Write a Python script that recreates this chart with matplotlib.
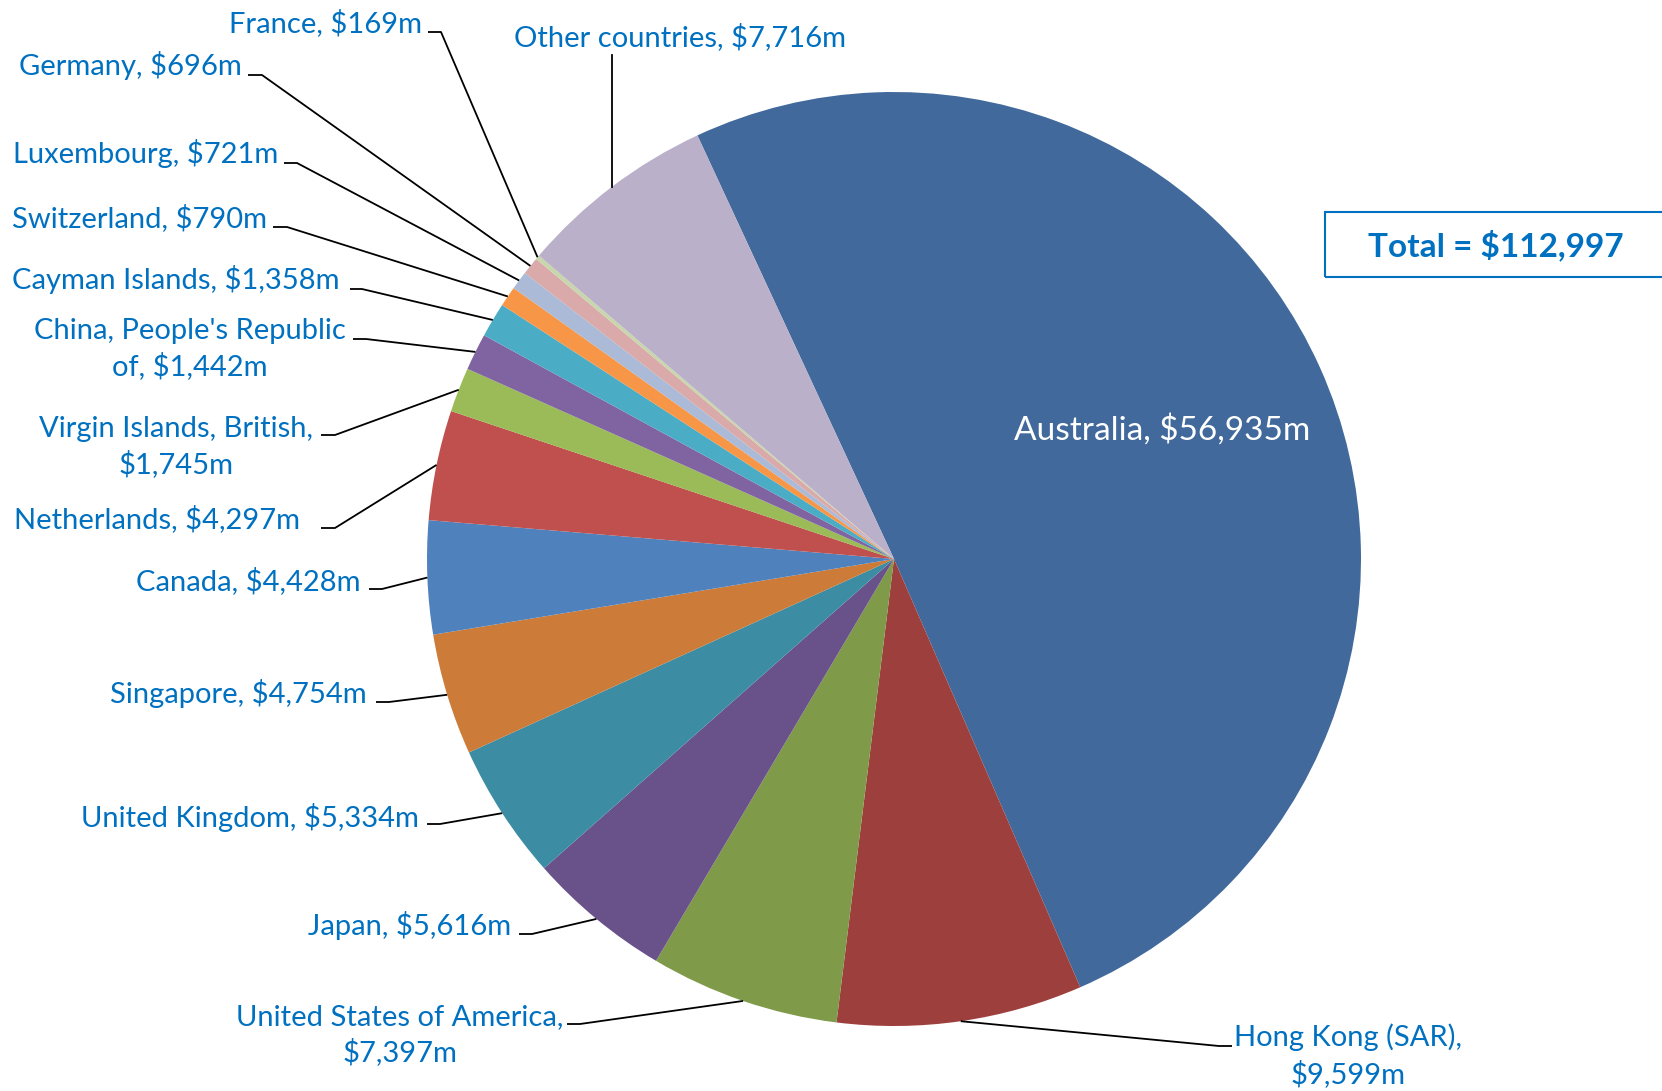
import matplotlib
matplotlib.use("Agg")
import matplotlib.pyplot as plt
import numpy as np

# ---- data ----
countries = ["Australia", "Hong Kong (SAR)", "United States of America", "Japan",
             "United Kingdom", "Singapore", "Canada", "Netherlands",
             "Virgin Islands, British", "China, People's Republic of",
             "Cayman Islands", "Switzerland", "Luxembourg", "Germany", "France",
             "Other countries"]
values = [56935, 9599, 7397, 5616, 5334, 4754, 4428, 4297, 1745, 1442,
          1358, 790, 721, 696, 169, 7716]
label_texts = ["Australia, $56,935m", "Hong Kong (SAR),\n$9,599m",
               "United States of America,\n$7,397m", "Japan, $5,616m",
               "United Kingdom, $5,334m", "Singapore, $4,754m", "Canada, $4,428m",
               "Netherlands, $4,297m", "Virgin Islands, British,\n$1,745m",
               "China, People's Republic\nof, $1,442m", "Cayman Islands, $1,358m",
               "Switzerland, $790m", "Luxembourg, $721m", "Germany, $696m",
               "France, $169m", "Other countries, $7,716m"]
total_text = "Total = $112,997"

colors = ["#41699B", "#9D403D", "#7F9A48", "#69518A", "#3C8DA3", "#CC7B38",
          "#4F81BD", "#C0504D", "#9BBB59", "#8064A2", "#4BACC6", "#F79646",
          "#AABAD7", "#D9AAA9", "#C8D6AC", "#BAB0C9"]

W, H = 1662, 1091
fig = plt.figure(figsize=(W / 100, H / 100), dpi=100)
ax = fig.add_axes([0, 0, 1, 1])

CX, CY_IMG, R = 894, 559, 467
CY = H - CY_IMG
START = 114.9

wedges, _ = ax.pie(values, colors=colors, startangle=START, counterclock=False,
                   center=(CX, CY), radius=R, wedgeprops=dict(linewidth=0))
ax.set_xlim(0, W)
ax.set_ylim(0, H)
ax.set_aspect("auto")
ax.axis("off")

FONT = "Lato"
FS = 21
BLUE = "#0070C0"

def Y(y):
    return H - y

def rim(i):
    w = wedges[i]
    mid = np.deg2rad((w.theta1 + w.theta2) / 2)
    return CX + R * np.cos(mid), CY + R * np.sin(mid)

# label layout (image pixel coords): (x, y, ha, stub_x0, stub_x1, stub_y)
layout = {
    14: (422, 23, "right", 428, 441, 32),
    13: (242, 66, "right", 248, 262, 75),
    12: (278, 154, "right", 284, 297, 163),
    11: (267, 218, "right", 273, 287, 227),
    10: (340, 280, "right", 350, 362, 289),
    9: (190, 349, "center", 353, 366, 339),
    8: (176, 447, "center", 321, 335, 435),
    7: (300, 519, "right", 321, 335, 528),
    6: (361, 581, "right", 369, 382, 589),
    5: (367, 694, "right", 376, 389, 702),
    4: (419, 817, "right", 427, 440, 824),
    3: (511, 926, "right", 519, 532, 934),
    2: (400, 1035, "center", 567, 580, 1024),
    1: (1348, 1056, "center", 1232, 1219, 1046),
}

for i, (x, y, ha, sx0, sx1, sy) in layout.items():
    ax.text(x, Y(y), label_texts[i], ha=ha, va="center", multialignment="center",
            color=BLUE, fontsize=FS, family=FONT, linespacing=1.38)
    rx, ry = rim(i)
    ax.plot([sx0, sx1, rx], [Y(sy), Y(sy), ry], color="black", lw=1.3,
            solid_capstyle="butt", clip_on=False)

# Other countries: label above, vertical leader
ax.text(680, Y(37), label_texts[15], ha="center", va="center", color=BLUE,
        fontsize=FS, family=FONT)
rx, ry = rim(15)
ax.plot([rx, rx], [Y(55), ry], color="black", lw=1.3)

# Australia label inside
ax.text(1162, Y(430), label_texts[0], ha="center", va="center", color="white",
        fontsize=24, family=FONT)

# Total box
ax.add_patch(plt.Rectangle((1325, Y(277)), 400, 65, fill=False, edgecolor=BLUE,
                           lw=1.5, clip_on=True))
ax.text(1496, Y(245), total_text, ha="center", va="center", color=BLUE,
        fontsize=24, family=FONT, fontweight="bold")

fig.savefig("out.png", dpi=100)
